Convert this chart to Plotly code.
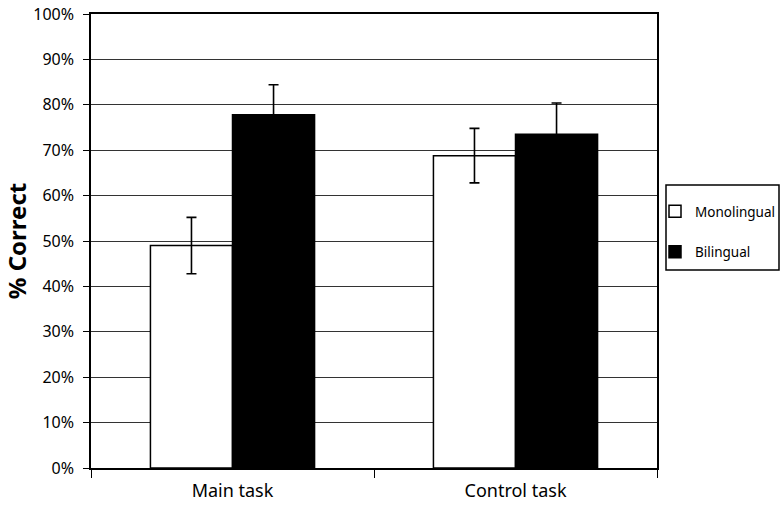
import plotly.graph_objects as go

categories = ["Main task", "Control task"]
mono_vals = [49.0, 68.8]
mono_err = [6.2, 6.0]
bil_vals = [77.8, 73.5]
bil_err = [6.6, 6.9]
y_ticks = [0, 10, 20, 30, 40, 50, 60, 70, 80, 90, 100]
y_labels = [f"{v}%" for v in y_ticks]

FONT = "Noto Sans"

fig = go.Figure()
fig.add_trace(go.Bar(
    name="Monolingual", x=categories, y=mono_vals, legendgroup="a",
    marker=dict(color="white", line=dict(color="black", width=1.5)),
    error_y=dict(type="data", array=mono_err, color="black", thickness=1.6, width=5),
))
fig.add_trace(go.Bar(
    name="Bilingual", x=categories, y=bil_vals, legendgroup="b",
    marker=dict(color="black", line=dict(color="black", width=1.5)),
    error_y=dict(type="data", array=bil_err, color="black", thickness=1.6, width=5),
))

# legend frame (paper coords relative to plot area 91..657 x, 14..468 y)
fig.add_shape(type="rect", xref="paper", yref="paper",
              x0=(666 - 91) / 566, x1=(779 - 91) / 566,
              y0=(468 - 270) / 454, y1=(468 - 185) / 454,
              line=dict(color="black", width=1.5), fillcolor="rgba(0,0,0,0)")

fig.update_layout(
    width=784, height=514,
    margin=dict(l=91, r=127, t=14, b=46, autoexpand=False),
    paper_bgcolor="white", plot_bgcolor="white",
    barmode="group", bargap=0.42, bargroupgap=0,
    font=dict(family=FONT, color="black", size=16),
    legend=dict(
        x=(655 - 91) / 566, xanchor="left", y=(468 - 196) / 454, yanchor="top",
        borderwidth=0, bgcolor="rgba(0,0,0,0)",
        font=dict(size=13.5, family=FONT), tracegroupgap=20,
    ),
    showlegend=True,
)
fig.update_xaxes(
    showline=True, linecolor="black", linewidth=1.5, mirror=True,
    ticks="outside", tickson="boundaries", ticklen=8, tickcolor="black", tickwidth=1.2,
    tickfont=dict(size=18, family=FONT), showgrid=False, automargin=False,
    ticklabelstandoff=6,
)
fig.update_yaxes(
    range=[0, 100], tickvals=y_ticks, ticktext=y_labels,
    showline=True, linecolor="black", linewidth=1.5, mirror=True,
    ticks="outside", ticklen=6, tickcolor="black", tickwidth=1.2,
    showgrid=True, gridcolor="#333333", gridwidth=1,
    tickfont=dict(size=16, family=FONT), automargin=False, ticklabelstandoff=6,
    ticklabeloverflow="allow",
    title=dict(text="<b>% Correct</b>", font=dict(size=24, family=FONT), standoff=16),
    zeroline=False,
)

fig.write_html("out.html", config={"displayModeBar": False},
               post_script="document.body.style.margin='0px';")
